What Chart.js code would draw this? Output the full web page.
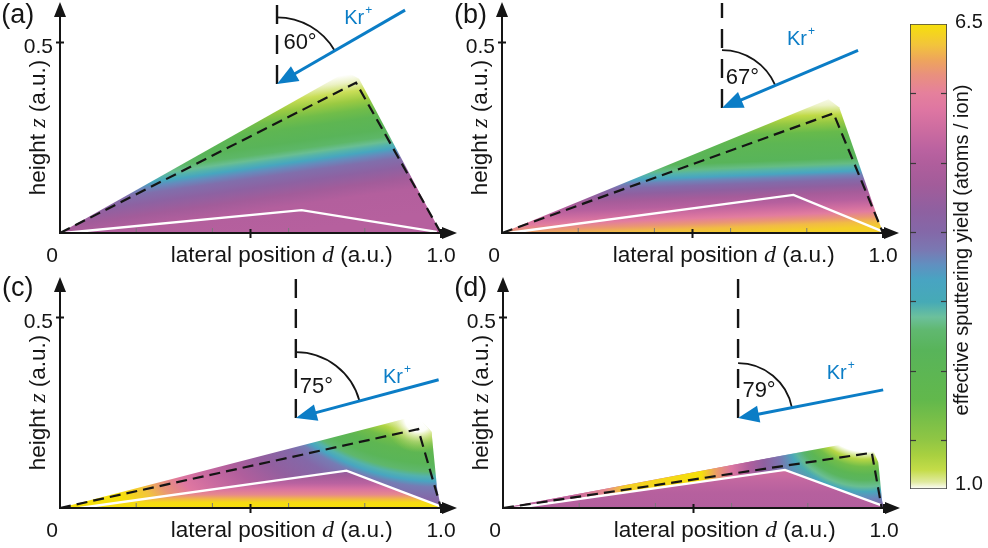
<!DOCTYPE html>
<html>
<head>
<meta charset="utf-8">
<title>Effective sputtering yield of eroded ridges</title>
<script src="https://cdn.jsdelivr.net/npm/chart.js@4.4.1/dist/chart.umd.min.js"></script>
<style>
  html, body { margin: 0; padding: 0; background: #ffffff; }
  #wrap { position: relative; width: 988px; height: 548px; overflow: hidden; }
  #wrap canvas { position: absolute; }
</style>
</head>
<body>
<div id="wrap">
  <canvas id="pa" width="470" height="270" style="left:0px;top:0px"></canvas>
  <canvas id="pb" width="450" height="270" style="left:450px;top:0px"></canvas>
  <canvas id="pc" width="470" height="278" style="left:0px;top:270px"></canvas>
  <canvas id="pd" width="450" height="278" style="left:450px;top:270px"></canvas>
  <canvas id="cb" width="88" height="548" style="left:900px;top:0px"></canvas>
</div>
<script>
// ---------------- data ----------------
// ion incidence angle (deg, from the surface normal) for panels (a)-(d)
const incidenceAngles = [60, 67, 75, 79];
const panelLetters = ['(a)', '(b)', '(c)', '(d)'];

// initial ridge cross-section (dashed): [lateral position d, height z]
const ridgeA = [[0, 0], [0.777, 0.3945], [1.0, 0]];
const ridgeB = [[0, 0], [0.870, 0.314], [1.0, 0]];
const ridgeC = [[0, 0], [0.940, 0.207], [1.0, 0]];
const ridgeD = [[0, 0], [0.968, 0.145], [0.994, 0]];

// eroded surface (white line)
const surfaceA = [[0.010, 0], [0.634, 0.060], [0.989, 0.003]];
const surfaceB = [[0.016, 0], [0.765, 0.100], [0.997, 0.005]];
const surfaceC = [[0.052, 0], [0.752, 0.098], [0.997, 0.005]];
const surfaceD = [[0.031, 0], [0.740, 0.100], [0.990, 0.008]];

// outline of the evaluated yield map
const mapA = [[0, 0], [0.752, 0.423], [0.785, 0.405], [1.0, 0]];
const mapB = [[0, 0], [0.857, 0.351], [0.885, 0.330], [1.0, 0]];
const mapC = [[0, 0], [0.936, 0.242], [0.975, 0.200], [0.990, 0.050], [1.0, 0]];
const mapD = [[0, 0], [0.959, 0.180], [0.985, 0.120], [0.995, 0.020], [1.0, 0]];
// rising flank of the map in (d), up to where the shadowed zone begins
const flankD = [[0, 0], [0.40, 0.0751], [0.82, 0.1539]];

// yield profiles: [distance along the profile (a.u.), yield (atoms/ion), opacity]
const yieldA = [[0.00, 4.95], [0.07, 4.90], [0.10, 4.60], [0.13, 4.25], [0.155, 3.95], [0.17, 3.70],
                [0.182, 3.40], [0.192, 3.15], [0.202, 3.00], [0.215, 2.80], [0.235, 2.60], [0.27, 2.30],
                [0.295, 1.90], [0.32, 1.50], [0.345, 1.20], [0.37, 1.05], [0.39, 1.00], [0.42, 1.00]];
const yieldB = [[0.00, 6.35], [0.015, 6.20], [0.028, 5.95], [0.042, 5.60], [0.056, 5.30], [0.075, 4.95],
                [0.095, 4.65], [0.113, 4.30], [0.128, 4.00], [0.14, 3.75], [0.15, 3.45], [0.16, 3.15],
                [0.17, 2.95], [0.185, 2.65], [0.23, 2.35], [0.255, 2.00], [0.28, 1.55], [0.30, 1.25],
                [0.325, 1.05], [0.35, 1.00]];
const yieldC = [[0.46, 1.00], [0.49, 1.35], [0.515, 1.90], [0.54, 2.30], [0.57, 2.55], [0.59, 2.85],
                [0.603, 3.15], [0.615, 3.45], [0.63, 3.80], [0.66, 4.05], [0.72, 4.35], [0.79, 4.85],
                [0.85, 5.20], [0.91, 5.50], [0.96, 5.95], [1.00, 6.25], [1.06, 6.50]];
const yieldCtip = [[0.00, 1.00, 1], [0.035, 1.00, 0.95], [0.06, 1.10, 0.5], [0.09, 1.30, 0]];
const yieldCnear = [[0.00, 6.50], [0.015, 6.45], [0.025, 6.15], [0.035, 5.80], [0.05, 5.40], [0.065, 5.00],
                    [0.085, 4.60], [0.10, 4.25]];
const yieldD = [[0.14, 1.00], [0.16, 1.30], [0.18, 1.90], [0.20, 2.40], [0.215, 2.70], [0.232, 3.00],
                [0.245, 3.30], [0.262, 3.70], [0.285, 4.10], [0.31, 4.40], [0.35, 4.90], [0.40, 5.20]];
const yieldDflank = [[0.00, 4.95, 1], [0.18, 5.15, 1], [0.27, 5.80, 1], [0.32, 6.35, 1], [0.52, 6.50, 1],
                     [0.56, 6.00, 1], [0.60, 5.45, 1], [0.645, 4.85, 1], [0.685, 4.30, 1], [0.725, 3.85, 0.85],
                     [0.765, 3.30, 0.5], [0.82, 2.80, 0]];
const yieldDnear = [[0.00, 4.90], [0.04, 4.95], [0.07, 5.10], [0.10, 5.30]];

// axis ticks
const xMinorTicks = [0.2, 0.4, 0.6, 0.8];
const xMajorTicks = [0.5, 1.0];
const yMajorTicks = [0.5];
const xTickLabels = ['0', '1.0'];
const xTickLabelValues = [0, 1.0];
const yTickLabels = ['0.5'];
const yTickLabelValues = [0.5];

// colour scale
const cbarRange = [1.0, 6.5];
const cbarTicks = [5.68, 4.86, 4.04, 3.22, 2.40, 1.58];
const cmapYield = [1.0, 1.083, 1.225, 1.402, 1.58, 2.054, 2.645, 2.881, 3.034, 3.212, 3.473, 3.65,
                   3.827, 4.04, 4.30, 4.596, 4.856, 5.01, 5.246, 5.483, 5.684, 5.897, 6.074, 6.252, 6.5];
const cmapColor = ['#ffffff', '#e0eaa0', '#c4dc48', '#a8d040', '#90c644', '#62b84c', '#58b45a', '#60b870',
                   '#6cc09c', '#46aab6', '#48a4c2', '#6090c0', '#7a78b2', '#8468a8', '#8f60a0', '#a25c9a',
                   '#b05e9c', '#ba62a0', '#cc6ca0', '#de76a2', '#e5809c', '#e9907e', '#eea55c', '#f2c43c', '#f6e00a'];

// ---------------- styling / layout ----------------
const INK = '#151515';
const BEAM = '#0b7dc6';
const SANS = '"Liberation Sans", Arial, Helvetica, sans-serif';
const SERIF = '"Liberation Serif", "Times New Roman", serif';
const U = 381;                    // pixels per a.u. (both axes)
const AXIS_REACH = [1.042, 0.606];

const panels = [
  { canvas: 'pa', origin: [60, 233], ridge: ridgeA, surface: surfaceA,
    layers: [{ shape: mapA, kind: 'linear', from: [0.6, 0], dir: [-0.14, 1], profile: yieldA }],
    beam: { pivot: [0.5696, 0.391], top: 0.604, arcR: 0.175, arrowLen: 0.388, angleAt: [0.630, 0.499], krAt: [0.772, 0.562] },
    letterAt: [-0.154, 0.572] },
  { canvas: 'pb', origin: [52, 233], ridge: ridgeB, surface: surfaceB,
    layers: [{ shape: mapB, kind: 'linear', from: [0.6, 0], dir: [-0.04, 1], profile: yieldB }],
    beam: { pivot: [0.5774, 0.328], top: 0.604, arcR: 0.152, arrowLen: 0.388, angleAt: [0.631, 0.407], krAt: [0.774, 0.507] },
    letterAt: [-0.126, 0.572] },
  { canvas: 'pc', origin: [60, 238], ridge: ridgeC, surface: surfaceC,
    layers: [{ shape: mapC, kind: 'radial', center: [0.993, 0.685], profile: yieldC },
             { shape: mapC, kind: 'radial', center: [0.94, 0.235], profile: yieldCtip },
             { shape: surfaceC, kind: 'linear', from: [0.5, 0], dir: [0, 1], profile: yieldCnear }],
    beam: { pivot: [0.619, 0.236], top: 0.606, arcR: 0.173, arrowLen: 0.388, angleAt: [0.673, 0.319], krAt: [0.874, 0.3425] },
    letterAt: [-0.152, 0.577] },
  { canvas: 'pd', origin: [53, 238], ridge: ridgeD, surface: surfaceD,
    layers: [{ shape: mapD, kind: 'radial', center: [0.95, 0.288], profile: yieldD },
             { shape: flankD, kind: 'linear', from: [0, 0], dir: [1, 0], profile: yieldDflank },
             { shape: surfaceD, kind: 'linear', from: [0.5, 0], dir: [0, 1], profile: yieldDnear }],
    beam: { pivot: [0.617, 0.236], top: 0.606, arcR: 0.144, arrowLen: 0.388, angleAt: [0.672, 0.308], krAt: [0.876, 0.3535] },
    letterAt: [-0.128, 0.577] }
];

// ---------------- helpers ----------------
function hexRgb(h) {
  return [parseInt(h.slice(1, 3), 16), parseInt(h.slice(3, 5), 16), parseInt(h.slice(5, 7), 16)];
}
function yieldColor(v, alpha) {
  let i = 0;
  while (i < cmapYield.length - 2 && v > cmapYield[i + 1]) i++;
  const t = Math.max(0, Math.min(1, (v - cmapYield[i]) / (cmapYield[i + 1] - cmapYield[i])));
  const c0 = hexRgb(cmapColor[i]), c1 = hexRgb(cmapColor[i + 1]);
  const c = c0.map((c, k) => Math.round(c + (c1[k] - c) * t));
  return 'rgba(' + c[0] + ',' + c[1] + ',' + c[2] + ',' + (alpha === undefined ? 1 : alpha) + ')';
}
function toPts(arr) { return arr.map(p => ({ x: p[0], y: p[1] })); }
function pixelOf(chart, x, z) {
  return [chart.scales.x.getPixelForValue(x), chart.scales.y.getPixelForValue(z)];
}
function layerFill(chart, layer) {
  if (!chart.chartArea) return 'rgba(0,0,0,0)';
  const ctx = chart.ctx;
  const prof = layer.profile;
  const len = prof[prof.length - 1][0];
  let g;
  if (layer.kind === 'radial') {
    const [cx, cy] = pixelOf(chart, layer.center[0], layer.center[1]);
    const [rx] = pixelOf(chart, layer.center[0] + len, layer.center[1]);
    g = ctx.createRadialGradient(cx, cy, 0, cx, cy, rx - cx);
  } else {
    const n = Math.hypot(layer.dir[0], layer.dir[1]);
    const [x0, y0] = pixelOf(chart, layer.from[0], layer.from[1]);
    const [x1, y1] = pixelOf(chart, layer.from[0] + layer.dir[0] / n * len, layer.from[1] + layer.dir[1] / n * len);
    g = ctx.createLinearGradient(x0, y0, x1, y1);
  }
  prof.forEach(s => g.addColorStop(s[0] / len, yieldColor(s[1], s[2])));
  return g;
}
function seg(ctx, x0, y0, x1, y1) {
  ctx.beginPath(); ctx.moveTo(x0, y0); ctx.lineTo(x1, y1); ctx.stroke();
}
function tri(ctx, a, b, c) {
  ctx.beginPath(); ctx.moveTo(a[0], a[1]); ctx.lineTo(b[0], b[1]); ctx.lineTo(c[0], c[1]); ctx.closePath(); ctx.fill();
}
function richText(ctx, parts, x, y) {
  const widths = parts.map(p => { ctx.font = p[1]; return ctx.measureText(p[0]).width; });
  let cx = x - widths.reduce((a, b) => a + b, 0) / 2;
  ctx.textAlign = 'left';
  parts.forEach((p, i) => { ctx.font = p[1]; ctx.fillText(p[0], cx, y); cx += widths[i]; });
}

// axes, labels and beam geometry drawn on top of each panel
function decorPlugin(panel, idx) {
  return {
    id: 'decor' + idx,
    afterDatasetsDraw(chart) {
      const ctx = chart.ctx;
      const P = (x, z) => pixelOf(chart, x, z);
      const [ox, oy] = P(0, 0);
      const [xa] = P(AXIS_REACH[0], 0);
      const [, ya] = P(0, AXIS_REACH[1]);
      ctx.save();
      ctx.lineCap = 'butt';
      // axis lines with arrow heads
      ctx.strokeStyle = INK; ctx.fillStyle = INK; ctx.lineWidth = 2;
      seg(ctx, ox - 1, oy, xa - 10, oy);
      seg(ctx, ox, oy + 1, ox, ya + 10);
      tri(ctx, [xa, oy], [xa - 15, oy - 6], [xa - 15, oy + 6]);
      tri(ctx, [ox, ya], [ox - 6, ya + 15], [ox + 6, ya + 15]);
      // ticks
      ctx.lineWidth = 1; ctx.strokeStyle = '#7a7a7a';
      xMinorTicks.forEach(v => { const [x] = P(v, 0); seg(ctx, x, oy - 1, x, oy - 5); });
      ctx.lineWidth = 2; ctx.strokeStyle = INK;
      xMajorTicks.forEach(v => { const [x] = P(v, 0); seg(ctx, x, oy - 4, x, oy + 5); });
      yMajorTicks.forEach(v => { const [, y] = P(0, v); seg(ctx, ox - 4, y, ox + 4, y); });
      // tick labels
      ctx.font = '21px ' + SANS; ctx.textBaseline = 'alphabetic'; ctx.textAlign = 'center';
      xTickLabelValues.forEach((v, i) => {
        const [x] = P(v, 0);
        ctx.fillText(xTickLabels[i], x + (v === 0 ? -8 : 0), oy + 28.5);
      });
      ctx.textAlign = 'right';
      yTickLabelValues.forEach((v, i) => {
        const [, y] = P(0, v);
        ctx.fillText(yTickLabels[i], ox - 7, y + 10);
      });
      // axis titles
      ctx.textBaseline = 'alphabetic';
      const [tx] = P(0.582, 0);
      richText(ctx, [['lateral position ', '22.5px ' + SANS], ['d', 'italic 24px ' + SERIF], [' (a.u.)', '22.5px ' + SANS]], tx, oy + 28.5);
      const [, ty] = P(0, 0.277);
      ctx.save();
      ctx.translate(ox - 15, ty);
      ctx.rotate(-Math.PI / 2);
      richText(ctx, [['height ', '22.5px ' + SANS], ['z', 'italic 24px ' + SERIF], [' (a.u.)', '22.5px ' + SANS]], 0, 0);
      ctx.restore();
      // panel letter
      const [lx, ly] = P(panel.letterAt[0], panel.letterAt[1]);
      ctx.font = '27px ' + SANS; ctx.textAlign = 'left'; ctx.textBaseline = 'middle';
      ctx.fillText(panelLetters[idx], lx, ly);

      // incidence geometry: surface normal, angle arc, Kr+ beam
      const b = panel.beam;
      const angle = incidenceAngles[idx];
      const th = angle * Math.PI / 180;
      const [px0, py0] = P(b.pivot[0], b.pivot[1]);
      const [, pTop] = P(b.pivot[0], b.top);
      const r = P(b.pivot[0] + b.arcR, b.pivot[1])[0] - px0;
      const L = P(b.pivot[0] + b.arrowLen, b.pivot[1])[0] - px0;
      ctx.strokeStyle = INK; ctx.lineWidth = 2.4; ctx.setLineDash([19, 11]);
      seg(ctx, px0, py0, px0, pTop);
      ctx.setLineDash([]);
      ctx.lineWidth = 1.8;
      ctx.beginPath(); ctx.arc(px0, py0, r, -Math.PI / 2, -Math.PI / 2 + th, false); ctx.stroke();
      const ux = Math.sin(th), uy = -Math.cos(th);
      const head = 21, hw = 8.5;
      const bx = px0 + ux * head, by = py0 + uy * head;
      ctx.strokeStyle = BEAM; ctx.fillStyle = BEAM; ctx.lineWidth = 3;
      seg(ctx, px0 + ux * L, py0 + uy * L, bx + ux * -2, by + uy * -2);
      tri(ctx, [px0, py0], [bx - uy * hw, by + ux * hw], [bx + uy * hw, by - ux * hw]);
      // labels
      ctx.fillStyle = INK; ctx.textAlign = 'center'; ctx.textBaseline = 'middle';
      ctx.font = '22px ' + SANS;
      const [ax, ay] = P(b.angleAt[0], b.angleAt[1]);
      ctx.fillText(angle + '\u00B0', ax, ay);
      ctx.fillStyle = BEAM; ctx.font = '20px ' + SANS;
      const [kx, ky] = P(b.krAt[0], b.krAt[1]);
      ctx.fillText('Kr', kx, ky);
      const kw = ctx.measureText('Kr').width;
      ctx.font = '12px ' + SANS; ctx.textAlign = 'left';
      ctx.fillText('+', kx + kw / 2 + 1, ky - 8);
      ctx.restore();
    }
  };
}

// ---------------- panels ----------------
panels.forEach((panel, idx) => {
  const el = document.getElementById(panel.canvas);
  const W = el.width, H = el.height;
  const datasets = [
    { label: 'initial ridge', data: toPts(panel.ridge), showLine: true, borderColor: INK, borderWidth: 2.2,
      borderDash: [11, 6], pointRadius: 0, fill: false, order: 0, clip: false },
    { label: 'eroded surface', data: toPts(panel.surface), showLine: true, borderColor: '#ffffff', borderWidth: 2.4,
      pointRadius: 0, fill: false, order: 1, clip: false }
  ];
  panel.layers.forEach((layer, i) => {
    datasets.push({ label: 'effective sputtering yield', data: toPts(layer.shape), showLine: true,
      borderColor: 'rgba(0,0,0,0)', borderWidth: 0, pointRadius: 0, fill: 'origin',
      backgroundColor: c => layerFill(c.chart, layer), order: 10 - i });
  });
  new Chart(el, {
    type: 'scatter',
    data: { datasets },
    options: {
      responsive: false, animation: false, devicePixelRatio: 1,
      layout: { padding: 0 },
      elements: { line: { tension: 0 } },
      scales: {
        x: { type: 'linear', display: false, min: -panel.origin[0] / U, max: (W - panel.origin[0]) / U },
        y: { type: 'linear', display: false, min: -(H - panel.origin[1]) / U, max: panel.origin[1] / U }
      },
      plugins: { legend: { display: false }, tooltip: { enabled: false } }
    },
    plugins: [decorPlugin(panel, idx)]
  });
});

// ---------------- colour bar ----------------
function cbarFill(chart) {
  if (!chart.chartArea) return 'rgba(0,0,0,0)';
  const y = chart.scales.y;
  const g = chart.ctx.createLinearGradient(0, y.getPixelForValue(cbarRange[0]), 0, y.getPixelForValue(cbarRange[1]));
  cmapYield.forEach((v, i) => g.addColorStop((v - cbarRange[0]) / (cbarRange[1] - cbarRange[0]), cmapColor[i]));
  return g;
}
const cbarDecor = {
  id: 'cbarDecor',
  afterDatasetsDraw(chart) {
    const ctx = chart.ctx, a = chart.chartArea, y = chart.scales.y;
    ctx.save();
    ctx.strokeStyle = '#3a3a3a'; ctx.lineWidth = 1.2;
    cbarTicks.forEach(v => {
      const py = Math.round(y.getPixelForValue(v)) + 0.5;
      seg(ctx, a.left, py, a.left + 6, py);
      seg(ctx, a.right - 6, py, a.right, py);
    });
    ctx.fillStyle = INK; ctx.font = '20px ' + SANS; ctx.textAlign = 'left'; ctx.textBaseline = 'alphabetic';
    ctx.fillText('6.5', a.right + 8, y.getPixelForValue(cbarRange[1]) + 4);
    ctx.fillText('1.0', a.right + 8, y.getPixelForValue(cbarRange[0]) + 1);
    ctx.translate(a.right + 20.5, 250);
    ctx.rotate(-Math.PI / 2);
    ctx.textAlign = 'center';
    ctx.fillText('effective sputtering yield (atoms / ion)', 0, 0);
    ctx.restore();
  }
};
new Chart(document.getElementById('cb'), {
  type: 'bar',
  data: {
    labels: ['yield'],
    datasets: [{ label: 'effective sputtering yield', data: [[cbarRange[0], cbarRange[1]]],
      backgroundColor: c => cbarFill(c.chart), borderColor: '#444444', borderWidth: 1.2, borderSkipped: false,
      barPercentage: 1, categoryPercentage: 1 }]
  },
  options: {
    responsive: false, animation: false, devicePixelRatio: 1,
    layout: { padding: { left: 10, right: 41, top: 24, bottom: 59 } },
    scales: {
      x: { display: false },
      y: { display: false, min: cbarRange[0], max: cbarRange[1] }
    },
    plugins: { legend: { display: false }, tooltip: { enabled: false } }
  },
  plugins: [cbarDecor]
});
</script>
</body>
</html>
